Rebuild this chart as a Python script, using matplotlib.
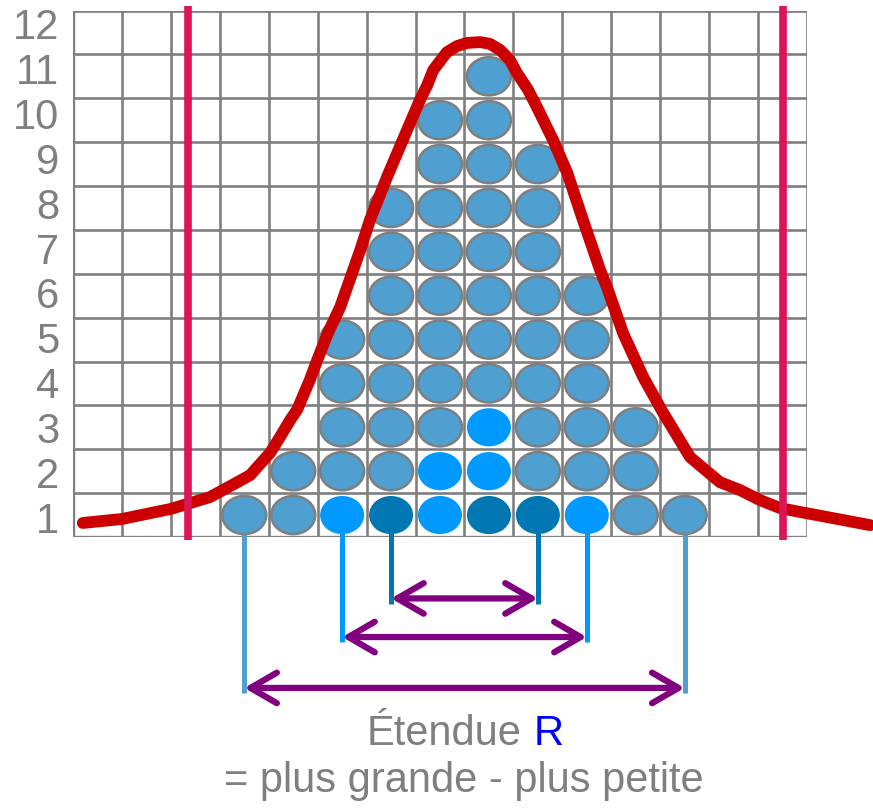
import numpy as np
import matplotlib
matplotlib.use("Agg")
import matplotlib.pyplot as plt
from matplotlib.patches import Ellipse, FancyArrowPatch

plt.rcParams['font.family'] = ['Liberation Sans', 'DejaVu Sans']

# stacked dots: column index and number of dots in it
columns = [3, 4, 5, 6, 7, 8, 9, 10, 11, 12]
counts = [1, 2, 5, 8, 10, 11, 9, 6, 3, 1]

# highlighted dots (column, row)
bright_cells = [(5, 1), (7, 1), (10, 1), (7, 2), (8, 2), (8, 3)]
dark_cells = [(6, 1), (8, 1), (9, 1)]

# range brackets: (left column, right column, depth below axis)
ranges = [(6, 9, -1.4), (5, 10, -2.28), (3, 12, -3.44)]
range_colors = ['#0077b3', '#0099ff', '#4f9fd0']

# fitted curve, traced
curve_x = [0.20, 1.00, 2.00, 2.80, 3.41, 3.62, 3.82, 4.03, 4.23, 4.44, 4.58,
           4.84, 4.99, 5.21, 5.46, 5.87, 6.07, 6.42, 6.74, 7.09, 7.24, 7.36,
           7.64, 7.85, 8.05, 8.32, 8.52, 8.73, 8.93, 9.07, 9.30, 9.48, 9.81,
           10.10, 10.42, 10.77, 10.91, 11.24, 11.65, 12.06, 12.30, 12.61,
           12.92, 13.22, 13.63, 14.04, 14.45, 14.86, 15.53, 16.29]
curve_y = [0.32, 0.41, 0.64, 0.91, 1.28, 1.41, 1.66, 1.92, 2.28, 2.67, 2.90,
           3.58, 4.03, 4.65, 5.24, 6.54, 7.23, 8.21, 9.05, 9.96, 10.30, 10.64,
           11.05, 11.19, 11.26, 11.28, 11.24, 11.10, 10.87, 10.58, 10.19,
           9.80, 9.05, 8.30, 7.23, 6.09, 5.70, 4.65, 3.65, 2.83, 2.39, 1.82,
           1.53, 1.25, 1.07, 0.84, 0.66, 0.57, 0.43, 0.27]

# vertical limit lines
limit_x = [2.35, 14.51]

y_labels = [str(i) for i in range(1, 13)]
y_label_pos = np.linspace(0.45, 11.7, 12)

GRAY = '#7f7f7f'
DOT = '#4f9fd0'
BRIGHT = '#0099ff'
DARK = '#0077b3'

fig = plt.figure(figsize=(8.73, 8.09), dpi=100)
ax = fig.add_axes([73 / 873, 1 - 537 / 809, 734 / 873, 526.5 / 809])
ax.set_xlim(0, 15)
ax.set_ylim(0, 12)
for s in ax.spines.values():
    s.set_visible(False)

# grid
ax.vlines(np.arange(0, 16), 0, 12, color=GRAY, lw=1.9, zorder=1)
ax.hlines(np.arange(0, 13), 0, 15, color=GRAY, lw=1.9, zorder=1)
ax.vlines([0], 0, 12, color=GRAY, lw=2.4, zorder=1)
ax.hlines([0], 0, 15, color=GRAY, lw=2.4, zorder=1)

ax.set_xticks([])
ax.set_yticks(y_label_pos)
ax.set_yticklabels(y_labels, fontsize=30, color=GRAY)
ax.tick_params(axis='y', length=0, pad=10)

# dots
for col, n in zip(columns, counts):
    for row in range(1, n + 1):
        if (col, row) in bright_cells:
            fc, ec = BRIGHT, 'none'
        elif (col, row) in dark_cells:
            fc, ec = DARK, 'none'
        else:
            fc, ec = DOT, GRAY
        ax.add_patch(Ellipse((col + 0.5, row - 0.5), 0.9, 0.87, facecolor=fc,
                             edgecolor=ec, lw=1.8, zorder=4))

# range stems and arrows
for (c0, c1, depth), color in zip(ranges, range_colors):
    ax.vlines([c0 + 0.5, c1 + 0.5], depth - 0.12, 0.5, color=color, lw=3.6,
              zorder=3, clip_on=False)
    arr = FancyArrowPatch((c0 + 0.5, depth), (c1 + 0.5, depth),
                          arrowstyle='<->,head_length=19,head_width=11',
                          mutation_scale=1, color='#800080', lw=4.5,
                          capstyle='round', joinstyle='round',
                          shrinkA=0, shrinkB=0, zorder=3, clip_on=False)
    ax.add_patch(arr)

# curve
ax.plot(curve_x, curve_y, color='#cc0000', lw=8.5, solid_capstyle='round',
        solid_joinstyle='round', zorder=5, clip_on=False)

# limit lines
ax.vlines(limit_x, -0.07, 12.1, color='#dc1458', lw=5.5, zorder=6,
          clip_on=False)

t1 = fig.text(367 / 873, 1 - 745 / 809, 'Étendue', fontsize=30, color=GRAY,
              ha='left', va='baseline')
ax.annotate('R', xy=(1, 0), xycoords=t1, xytext=(8.5, 0),
            textcoords='offset points', fontsize=30, color='#0000ff',
            ha='left', va='bottom', annotation_clip=False)
fig.text(464 / 873, 1 - 792 / 809, '= plus grande - plus petite', fontsize=30,
         color=GRAY, ha='center', va='baseline')

fig.savefig('out.png', dpi=100)
